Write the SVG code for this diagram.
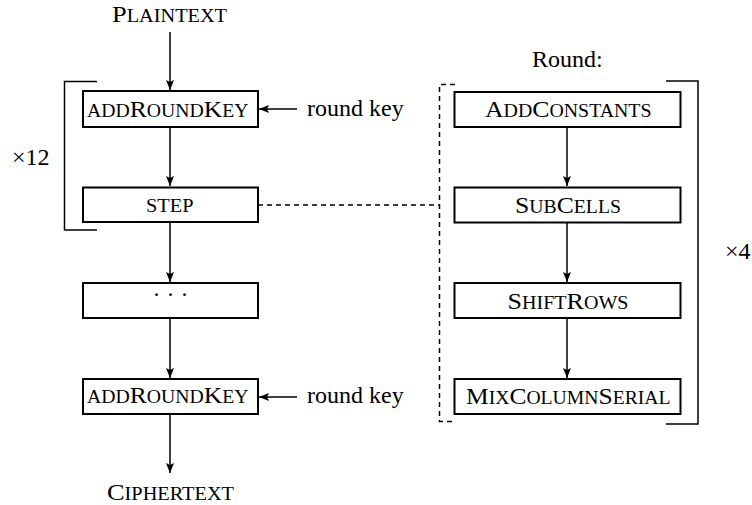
<svg xmlns="http://www.w3.org/2000/svg" width="752" height="505" viewBox="0 0 752 505">
<style>
text{font-family:"Liberation Serif","DejaVu Serif",serif;fill:#000;font-size:24px}
.box{fill:#fff;stroke:#000;stroke-width:2}
.ln{fill:none;stroke:#000;stroke-width:1.5}
.dash{fill:none;stroke:#000;stroke-width:1.5;stroke-dasharray:5 4}
.sc{font-size:18.5px}
.m{text-anchor:middle}
</style>
<defs>
<marker id="ah" viewBox="0 0 10 8" refX="10" refY="4" markerWidth="10" markerHeight="8" markerUnits="userSpaceOnUse" orient="auto">
<path d="M0,0 L10,4 L0,8 L2,4 Z" fill="#000"/>
</marker>
</defs>
<g id="connectors">
<path class="ln" d="M170,32 V90" marker-end="url(#ah)"/>
<path class="ln" d="M170,127 V186" marker-end="url(#ah)"/>
<path class="ln" d="M170,222 V282" marker-end="url(#ah)"/>
<path class="ln" d="M170,318 V378" marker-end="url(#ah)"/>
<path class="ln" d="M170,414 V473" marker-end="url(#ah)"/>
<path class="ln" d="M297,109 H259" marker-end="url(#ah)"/>
<path class="ln" d="M297,397 H259" marker-end="url(#ah)"/>
<path class="ln" d="M567,127 V186" marker-end="url(#ah)"/>
<path class="ln" d="M567,223 V282" marker-end="url(#ah)"/>
<path class="ln" d="M567,318 V378" marker-end="url(#ah)"/>
<path class="dash" d="M258,205 H440"/>
</g>
<g id="loop12">
<path class="ln" d="M97,81.5 H64.5 V230 H97"/>
<text x="12" y="165">×12</text>
</g>
<g id="loop4">
<path class="ln" d="M666,81 H698 V424 H666"/>
<text x="725" y="259">×4</text>
</g>
<g id="round-bracket">
<path class="dash" d="M455,84.5 H439.5 V421.5 H455"/>
<text x="532" y="67">Round:</text>
</g>
<g id="plaintext"><text x="112" y="22" textLength="115" lengthAdjust="spacingAndGlyphs">P<tspan class="sc">LAINTEXT</tspan></text></g>
<g id="addRoundKey1">
<rect class="box" x="83" y="91" width="175" height="36"/>
<text x="87" y="117" textLength="161.5" lengthAdjust="spacingAndGlyphs"><tspan class="sc">ADD</tspan>R<tspan class="sc">OUND</tspan>K<tspan class="sc">EY</tspan></text>
</g>
<g id="roundkey1"><text x="307" y="116">round key</text></g>
<g id="step">
<rect class="box" x="83" y="187.5" width="175" height="34.5"/>
<text class="sc" x="146" y="212" textLength="47.5" lengthAdjust="spacingAndGlyphs">STEP</text>
</g>
<g id="dots">
<rect class="box" x="83" y="283" width="175" height="35"/>
<text class="m" x="170.5" y="302">· · ·</text>
</g>
<g id="addRoundKey2">
<rect class="box" x="83" y="379" width="175" height="35"/>
<text x="87" y="403" textLength="161.5" lengthAdjust="spacingAndGlyphs"><tspan class="sc">ADD</tspan>R<tspan class="sc">OUND</tspan>K<tspan class="sc">EY</tspan></text>
</g>
<g id="roundkey2"><text x="307" y="403">round key</text></g>
<g id="ciphertext"><text x="107" y="500" textLength="127" lengthAdjust="spacingAndGlyphs">C<tspan class="sc">IPHERTEXT</tspan></text></g>
<g id="addConstants">
<rect class="box" x="454.5" y="92" width="226" height="35"/>
<text x="485" y="117" textLength="166.5" lengthAdjust="spacingAndGlyphs">A<tspan class="sc">DD</tspan>C<tspan class="sc">ONSTANTS</tspan></text>
</g>
<g id="subCells">
<rect class="box" x="454.5" y="187.5" width="226" height="35"/>
<text x="515" y="213" textLength="106" lengthAdjust="spacingAndGlyphs">S<tspan class="sc">UB</tspan>C<tspan class="sc">ELLS</tspan></text>
</g>
<g id="shiftRows">
<rect class="box" x="454.5" y="283" width="226" height="35"/>
<text x="507.5" y="308.5" textLength="121" lengthAdjust="spacingAndGlyphs">S<tspan class="sc">HIFT</tspan>R<tspan class="sc">OWS</tspan></text>
</g>
<g id="mixColumnSerial">
<rect class="box" x="454.5" y="379" width="226" height="35"/>
<text x="466" y="403.5" textLength="204.5" lengthAdjust="spacingAndGlyphs">M<tspan class="sc">IX</tspan>C<tspan class="sc">OLUMN</tspan>S<tspan class="sc">ERIAL</tspan></text>
</g>
</svg>
